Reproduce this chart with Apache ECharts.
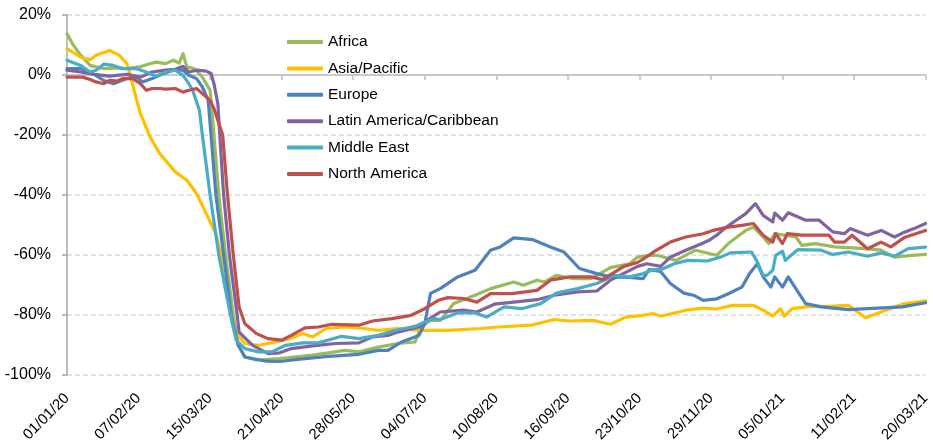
<!DOCTYPE html>
<html lang="en">
<head>
    <meta charset="UTF-8">
    <title>Regional change chart</title>
    <script type="text/javascript" src="https://cdn.jsdelivr.net/npm/echarts@6.0.0/dist/echarts.min.js"></script>
    <style>
        html, body { margin: 0; padding: 0; background: #fff; }
        #chart { width: 933px; height: 446px; }
    </style>
</head>
<body>
<div id="chart"></div>
<script type="text/javascript">
    // x = days since 01/01/20, y = % change
    const tickLabels = ['01/01/20', '07/02/20', '15/03/20', '21/04/20', '28/05/20', '04/07/20', '10/08/20',
        '16/09/20', '23/10/20', '29/11/20', '05/01/21', '11/02/21', '20/03/21'];
    const tickStep = 37;
    const lastDay = 444;

    const africa = [[0, 13.8], [3, 10.2], [7, 6.6], [12, 3.2], [19, 2.1], [25, 2.4], [31, 2.1], [38, 2.8], [42, 3.6],
        [46, 4.3], [51, 3.8], [55, 4.9], [58, 4.0], [60, 7.1], [62, 2.7], [66, 2.1], [70, -0.7], [74, -5.1], [76, -20],
        [78.5, -40], [82, -60], [86, -80], [88.5, -90], [92, -94], [98, -95], [110, -94.5], [127, -93.4], [144, -91.8],
        [151, -92.3], [161, -90.7], [171, -89.5], [180, -89], [183, -84], [188, -81.8], [193, -81.8], [200, -76.2],
        [211, -73.4], [219, -71.2], [231, -69], [236, -70.1], [243, -68.4], [247, -69], [253, -66.8], [262, -67.9],
        [271, -67.9], [281, -64.2], [291, -62.9], [295, -60.7], [301, -60.1], [305, -60.1], [315, -61.8], [325, -58.4],
        [336, -60.1], [342, -56.2], [351, -51.8], [355, -50.7], [360, -54], [363, -56.2], [366, -52.9], [377, -54],
        [380, -56.8], [387, -56.2], [397, -57.3], [413, -57.9], [421, -58.4], [428, -60.7], [437, -60.1], [444, -59.8]];

    const asiaPacific = [[0, 8.8], [7, 6], [12, 5.1], [15, 6.6], [22, 8.2], [27, 6.6], [31, 3.8], [33, -0.7], [36, -8.4],
        [38, -12.9], [43, -20.7], [48, -26.2], [56, -32.3], [62, -35.1], [67, -39.5], [72, -46.2], [77, -52.9],
        [80, -60.7], [83, -70.7], [85, -79.5], [87.5, -86], [92, -89.5], [99, -90.1], [108, -89], [115, -87.9],
        [122, -86.2], [127, -87.3], [134, -84.5], [144, -84], [154, -84.5], [161, -85.1], [171, -84.5], [182, -85.1],
        [197, -85.1], [214, -84.5], [223, -84], [240, -83.4], [252, -81.5], [260, -82], [272, -81.8], [281, -83.1],
        [289, -80.7], [298, -80.1], [303, -79.5], [307, -80.4], [320, -78.4], [329, -77.7], [336, -78], [344, -76.8],
        [355, -76.8], [360, -78.4], [365, -80.4], [369, -77.9], [371, -80.4], [375, -77.9], [384, -77.1], [394, -77.1],
        [404, -76.8], [413, -80.9], [421, -79], [432, -76.4], [444, -75.3]];

    const europe = [[0, 2.1], [7, 2.1], [12, 1], [19, -1.8], [24, -2.9], [31, -1.2], [36, -0.7], [39, -2.3], [44, -1.2],
        [50, 0.5], [55, 1.6], [60, 1.6], [63, -0.1], [67, -1.2], [70, -4], [73, -8.4], [74.5, -20], [77, -40], [81, -60],
        [85, -80], [88.5, -90], [92, -94], [103, -95.4], [110, -95.5], [118, -94.9], [135, -93.8], [151, -93.1],
        [161, -91.8], [166, -91.8], [173, -89], [182, -86.8], [185, -82.9], [188, -72.8], [193, -71.2], [202, -67.3],
        [211, -65.1], [219, -58.4], [224, -57.3], [231, -54.3], [241, -54.9], [250, -57.3], [257, -59], [265, -64.5],
        [274, -66.2], [281, -67.3], [291, -67.5], [298, -67.9], [301, -64.9], [307, -65.5], [312, -69.5], [319, -72.7],
        [324, -73.4], [329, -75.1], [336, -74.6], [342, -72.9], [349, -70.7], [353, -66.2], [357, -62.9], [360, -67.3],
        [364, -70.7], [366, -67.3], [370, -70.7], [373, -67.3], [378, -72.3], [382, -76.2], [390, -77.3], [404, -78.2],
        [414, -77.9], [432, -77.3], [444, -75.9]];

    const latinAmerica = [[0, 1.6], [7, 1], [14, 0.2], [22, -0.4], [31, 0.2], [38, -0.7], [44, 1], [51, 1.6], [56, 1.9],
        [60, 2.9], [63, 1], [67, 1.6], [72, 1.3], [74.5, 0.5], [76, -2.9], [78, -9.5], [79, -20], [81, -40], [84, -60],
        [88, -80], [89, -85.7], [96, -90.1], [104, -92.9], [110, -92.6], [116, -91.2], [127, -90.3], [139, -89.5],
        [151, -89.3], [158, -87.3], [166, -86.8], [171, -85.7], [182, -84], [188, -81], [193, -79], [205, -78.4],
        [212, -79], [221, -76.4], [231, -75.7], [243, -74.9], [252, -73.4], [264, -72.3], [274, -72], [281, -68.4],
        [291, -65.1], [295, -63.8], [300, -62.9], [307, -63.8], [312, -60.7], [320, -58.4], [329, -56], [332, -55.1],
        [336, -53.4], [341, -50.7], [346, -48.4], [351, -46.2], [356, -42.9], [360, -46.8], [365, -49], [366, -46],
        [370, -48.4], [373, -45.9], [382, -48.4], [389, -48.4], [396, -52.3], [402, -52.9], [405, -51.2], [414, -53.4],
        [421, -51.8], [428, -54], [432, -52.7], [438, -51.2], [444, -49.5]];

    const middleEast = [[0, 4.9], [7, 3.2], [12, 1], [15, 1.6], [19, 3.6], [24, 3.2], [29, 2.1], [36, 2.1], [41, 1],
        [46, -0.4], [51, 1], [56, 1.6], [60, -0.1], [63, -2.9], [65, -5.1], [68.5, -11.8], [70, -20], [74, -40],
        [78.5, -60], [84.5, -80], [87.5, -88.4], [92, -91.2], [99, -92.3], [106, -92.3], [113, -90.1], [122, -89.3],
        [130, -89.3], [142, -87.1], [151, -87.9], [161, -86.8], [170, -85.1], [180, -83.8], [185, -82.3], [190, -81.2],
        [193, -81.5], [202, -79.3], [211, -79.3], [217, -80.7], [226, -77.3], [235, -77.9], [245, -76.2], [253, -72.7],
        [264, -71.2], [274, -69.5], [283, -66.8], [291, -67.3], [298, -66.2], [303, -64.9], [307, -64.9], [314, -62.9],
        [321, -61.8], [331, -62], [338, -60.7], [343, -59.3], [354, -59], [357, -62.3], [360, -66.8], [362, -66.8],
        [365, -65.1], [366.5, -60.1], [370, -58.7], [371.5, -61.8], [375, -59.8], [378, -58.2], [390, -58.4],
        [396, -59.8], [404, -59], [414, -60.4], [421, -59.3], [428, -60.4], [435, -57.9], [444, -57.4]];

    const northAmerica = [[0, -0.7], [8, -0.7], [12, -1.5], [15, -2.3], [19, -2.9], [22, -1.8], [26, -2], [29, -1.2],
        [34, -1.2], [38, -2.9], [41, -5.1], [44, -4.5], [48, -4.5], [51, -4.7], [56, -4.5], [60, -5.7], [63, -5.1],
        [67, -4.5], [70, -6.2], [74, -8.4], [76, -11.2], [80.5, -20], [83, -40], [86, -60], [89, -77.3], [92, -82.9],
        [98, -86.2], [104, -87.9], [111, -88.4], [116, -86.8], [123, -84.3], [130, -84], [137, -83.1], [151, -83.4],
        [158, -82], [168, -81.2], [178, -80.1], [185, -77.9], [192, -75.1], [197, -74.2], [205, -74.5], [212, -75.7],
        [219, -72.9], [230, -72.9], [243, -71.8], [250, -68.4], [260, -67.3], [271, -67.3], [277, -68.2], [288, -63.8],
        [295, -62.5], [301, -60.1], [304, -58.7], [312, -55.7], [320, -54], [329, -52.9], [334, -51.8], [342, -50.7],
        [349, -50.1], [355, -49.5], [360, -53.4], [365, -55.7], [366.5, -52.9], [370, -56.2], [372.5, -52.9],
        [380, -53.4], [394, -53.4], [397, -55.7], [402, -55.7], [406, -53.4], [414, -57.9], [421, -55.7], [426, -57.3],
        [433, -54.2], [444, -51.8]];

    const seriesNames = ['Africa', 'Asia/Pacific', 'Europe', 'Latin America/Caribbean', 'Middle East', 'North America'];
    const seriesData = [africa, asiaPacific, europe, latinAmerica, middleEast, northAmerica];
    const colors = ['#9BBB59', '#FFC000', '#4F81BD', '#8064A2', '#4BACC6', '#C0504D'];

    const font = 'Liberation Sans, Arial, sans-serif';

    let option = {
        animation: false,
        backgroundColor: '#fff',
        color: colors,
        grid: {
            left: 67,
            right: 2,
            top: 15,
            bottom: 71
        },
        legend: {
            orient: 'vertical',
            left: 287,
            top: 34,
            padding: 0,
            itemGap: 10.4,
            itemWidth: 36,
            itemHeight: 4,
            icon: 'roundRect',
            textStyle: {
                fontFamily: font,
                fontSize: 15.5,
                color: '#000'
            },
            data: seriesNames
        },
        xAxis: [
            {
                type: 'value',
                min: 0,
                max: lastDay,
                interval: tickStep,
                position: 'bottom',
                axisLine: {show: false, onZero: false},
                axisTick: {show: false},
                splitLine: {show: false},
                axisLabel: {
                    rotate: 45,
                    margin: 21,
                    showMinLabel: true,
                    showMaxLabel: true,
                    fontFamily: font,
                    fontSize: 15,
                    color: '#000',
                    formatter: function (v) {
                        return tickLabels[Math.round(v / tickStep)];
                    }
                }
            },
            {
                // zero line with day ticks
                type: 'value',
                min: 0,
                max: lastDay,
                interval: tickStep,
                position: 'top',
                axisLine: {
                    show: true,
                    onZero: true,
                    lineStyle: {color: '#bfbfbf', width: 1.5}
                },
                axisTick: {
                    show: true,
                    inside: true,
                    length: 5,
                    lineStyle: {color: '#bfbfbf', width: 1.5}
                },
                axisLabel: {show: false},
                splitLine: {show: false}
            }
        ],
        yAxis: {
            type: 'value',
            min: -100,
            max: 20,
            interval: 20,
            axisLine: {
                show: true,
                onZero: false,
                lineStyle: {color: '#a6a6a6', width: 1.5}
            },
            axisTick: {
                show: true,
                length: 5,
                lineStyle: {color: '#a6a6a6', width: 1.5}
            },
            axisLabel: {
                margin: 16,
                fontFamily: font,
                fontSize: 16,
                color: '#000',
                formatter: '{value}%'
            },
            splitLine: {
                show: true,
                lineStyle: {color: '#d9d9d9', width: 1.5, type: [5, 3]}
            }
        },
        series: seriesNames.map(function (name, i) {
            return {
                name: name,
                type: 'line',
                xAxisIndex: 0,
                symbol: 'none',
                lineStyle: {width: 3.2, color: colors[i], cap: 'round', join: 'round'},
                data: seriesData[i]
            };
        })
    };

    echarts.init(document.getElementById('chart')).setOption(option);
</script>
</body>
</html>
